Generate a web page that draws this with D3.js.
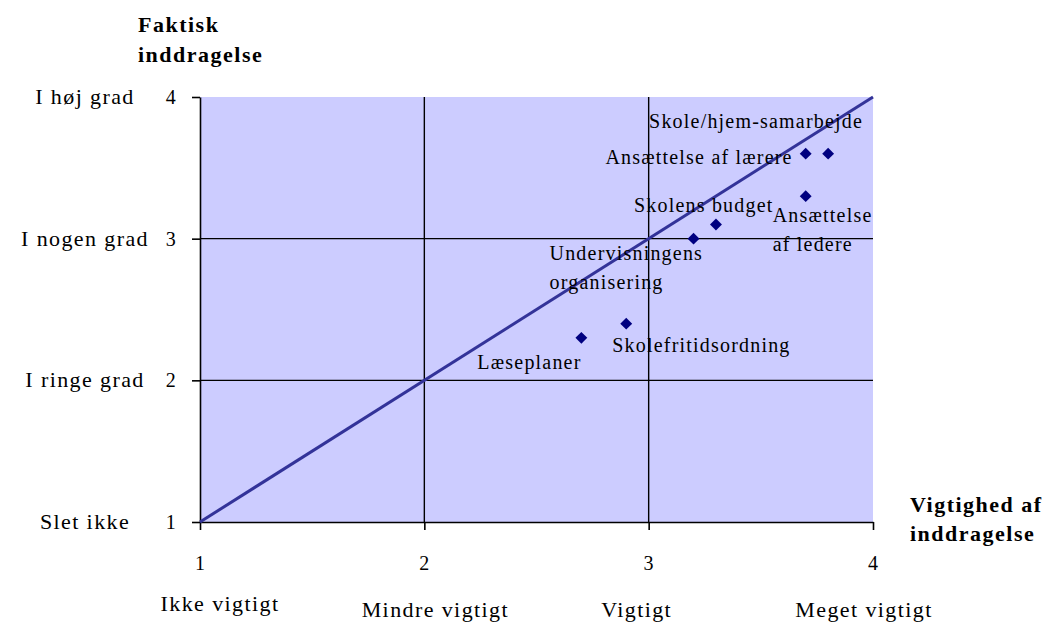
<!DOCTYPE html>
<html>
<head>
<meta charset="utf-8">
<script src="https://cdn.jsdelivr.net/npm/d3@7"></script>
<style>
  html, body { margin: 0; padding: 0; background: #fff; }
  svg text { font-family: "Liberation Serif", "Times New Roman", serif; fill: #000; letter-spacing: 1.2px; }
  svg text.title { font-weight: bold; letter-spacing: 1.5px; }
  svg text.scale { letter-spacing: 1.4px; }
</style>
</head>
<body>
<svg id="chart" width="1046" height="623"></svg>
<script>
// Areas of school decision making: importance (x) vs. actual involvement (y)
const areas      = ["Skole/hjem-samarbejde", "Ansættelse af lærere", "Ansættelse af ledere",
                    "Skolens budget", "Undervisningens organisering", "Skolefritidsordning", "Læseplaner"];
const importance = [3.8, 3.7, 3.7, 3.3, 3.2, 2.9, 2.7];
const involvement = [3.6, 3.6, 3.3, 3.1, 3.0, 2.4, 2.3];

const tickValues  = [1, 2, 3, 4];
const xTickLabels = ["Ikke vigtigt", "Mindre vigtigt", "Vigtigt", "Meget vigtigt"];
const yTickLabels = ["Slet ikke", "I ringe grad", "I nogen grad", "I høj grad"];

// horizontal shift / baseline of the verbal labels under the x ticks
const xLabelLayout = [{ dx: 20, y: 611 }, { dx: 11, y: 617 }, { dx: -12, y: 617 }, { dx: -9, y: 617 }];

// label placement around each marker: offsets of the first line, anchor, line breaks
const labelLayout = [
  { dx: 35,   dy: -26, anchor: "end",   lines: ["Skole/hjem-samarbejde"] },
  { dx: -13,  dy: 10,  anchor: "end",   lines: ["Ansættelse af lærere"] },
  { dx: -33,  dy: 26,  anchor: "start", lines: ["Ansættelse", "af ledere"] },
  { dx: -82,  dy: -13, anchor: "start", lines: ["Skolens budget"] },
  { dx: -144, dy: 21,  anchor: "start", lines: ["Undervisningens", "organisering"] },
  { dx: -14,  dy: 28,  anchor: "start", lines: ["Skolefritidsordning"] },
  { dx: -104, dy: 31,  anchor: "start", lines: ["Læseplaner"] }
];

const svg = d3.select("#chart");
const plotL = 200, plotR = 873, plotT = 97, plotB = 522;
const FS = 20, FS_SCALE = 22;

const x = d3.scaleLinear().domain([1, 4]).range([plotL, plotR]);
const y = d3.scaleLinear().domain([1, 4]).range([plotB, plotT]);

// plot background
svg.append("rect")
  .attr("x", plotL).attr("y", plotT)
  .attr("width", plotR - plotL).attr("height", plotB - plotT)
  .attr("fill", "#ccccff");

// gridlines at the inner ticks
const inner = tickValues.slice(1, -1);
svg.append("g").selectAll("line").data(inner).join("line")
  .attr("x1", d => x(d)).attr("x2", d => x(d))
  .attr("y1", plotT).attr("y2", plotB)
  .attr("stroke", "#000").attr("stroke-width", 1.4);
svg.append("g").selectAll("line").data(inner).join("line")
  .attr("y1", d => y(d)).attr("y2", d => y(d))
  .attr("x1", plotL).attr("x2", plotR)
  .attr("stroke", "#000").attr("stroke-width", 1.4);

// axes
const xAxis = svg.append("g")
  .attr("transform", `translate(0,${plotB})`)
  .call(d3.axisBottom(x).tickValues(tickValues).tickFormat(d3.format("d"))
        .tickSize(8).tickSizeOuter(0).tickPadding(26));
const yAxis = svg.append("g")
  .attr("transform", `translate(${plotL},0)`)
  .call(d3.axisLeft(y).tickValues(tickValues).tickFormat(d3.format("d"))
        .tickSize(8).tickSizeOuter(0).tickPadding(15));
[xAxis, yAxis].forEach(g => {
  g.select(".domain").attr("stroke", "#000").attr("stroke-width", 1.6);
  g.selectAll(".tick line").attr("stroke", "#000").attr("stroke-width", 1.6);
  g.selectAll(".tick text").attr("font-size", FS)
    .attr("font-family", "'Liberation Serif', serif").attr("fill", "#000");
});

// verbal scale labels
svg.append("g").selectAll("text").data(tickValues).join("text")
  .attr("class", "scale")
  .attr("x", (d, i) => x(d) + xLabelLayout[i].dx).attr("y", (d, i) => xLabelLayout[i].y)
  .attr("text-anchor", "middle").attr("font-size", FS_SCALE)
  .text((d, i) => xTickLabels[i]);
svg.append("g").selectAll("text").data(tickValues).join("text")
  .attr("class", "scale")
  .attr("x", 85).attr("y", d => y(d) + 7)
  .attr("text-anchor", "middle").attr("font-size", FS_SCALE)
  .text((d, i) => yTickLabels[i]);

// axis titles
const yTitle = svg.append("text").attr("class", "title").attr("font-size", 22);
yTitle.append("tspan").attr("x", 138).attr("y", 31.5).text("Faktisk");
yTitle.append("tspan").attr("x", 138).attr("y", 62).text("inddragelse");
const xTitle = svg.append("text").attr("class", "title").attr("font-size", 22);
xTitle.append("tspan").attr("x", 910).attr("y", 512).text("Vigtighed af");
xTitle.append("tspan").attr("x", 910).attr("y", 541).text("inddragelse");

// diagonal reference line: importance equals involvement
svg.append("line")
  .attr("x1", x(1)).attr("y1", y(1)).attr("x2", x(4)).attr("y2", y(4))
  .attr("stroke", "#333399").attr("stroke-width", 3);

// markers
const pts = areas.map((name, i) => ({ name, vx: importance[i], vy: involvement[i], lay: labelLayout[i] }));
svg.append("g").selectAll("path").data(pts).join("path")
  .attr("d", d3.symbol(d3.symbolDiamond2, 90))
  .attr("transform", d => `translate(${x(d.vx)},${y(d.vy)})`)
  .attr("fill", "#000080");

// point labels
const lbl = svg.append("g").selectAll("text").data(pts).join("text")
  .attr("font-size", FS)
  .attr("text-anchor", d => d.lay.anchor);
lbl.each(function(d) {
  const t = d3.select(this);
  d.lay.lines.forEach((line, k) => {
    t.append("tspan")
      .attr("x", x(d.vx) + d.lay.dx)
      .attr("y", y(d.vy) + d.lay.dy + k * 29)
      .text(line);
  });
});
</script>
</body>
</html>
